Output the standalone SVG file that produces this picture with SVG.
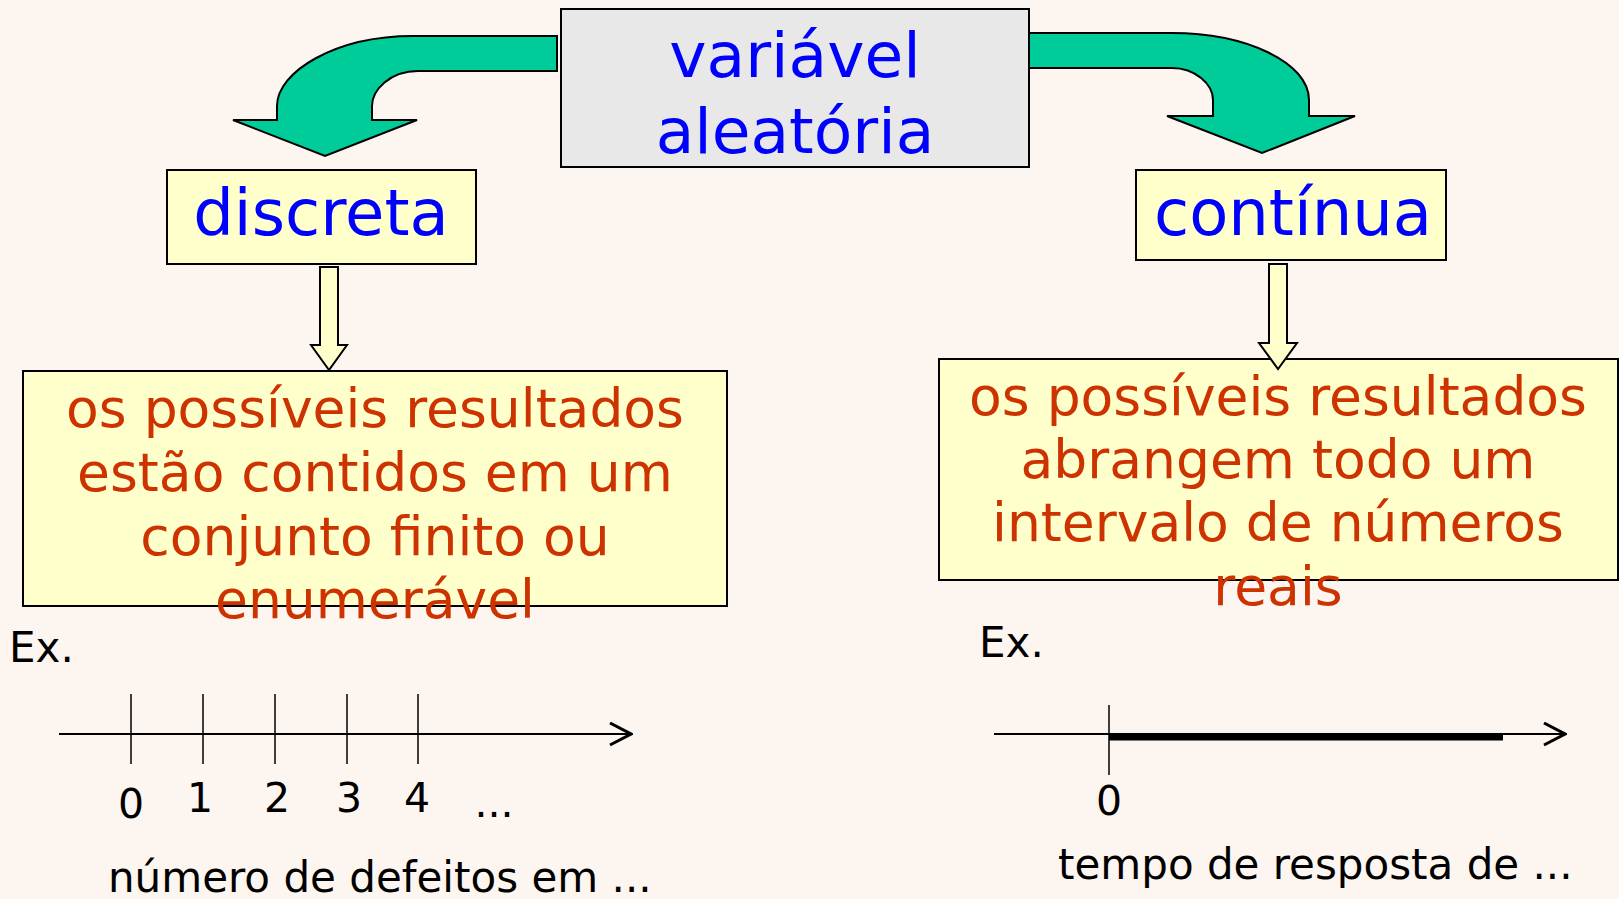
<svg xmlns="http://www.w3.org/2000/svg" width="1619" height="899" viewBox="0 0 1619 899">
<defs>
<style>
text{font-family:"DejaVu Sans","Liberation Sans",sans-serif}
.box{stroke:#000;stroke-width:2}
.gray{fill:#e8e8e8}
.yel{fill:#ffffcc}
.blue{fill:#0000ff;font-size:63px;text-anchor:middle}
.blue2{fill:#0000ff;font-size:64px;text-anchor:middle}
.red{fill:#cc3300;font-size:53.5px;text-anchor:middle}
.blk{fill:#000;font-size:42px}
.num{fill:#000;font-size:41px;text-anchor:middle}
.green{fill:#00cc99;stroke:#000;stroke-width:2;stroke-linejoin:miter}
.small{fill:#ffffcc;stroke:#000;stroke-width:2}
.axis{stroke:#000;stroke-width:2;fill:none}
.tick{stroke:#000;stroke-width:1.5}
</style>
<marker id="open" markerWidth="24" markerHeight="26" refX="22" refY="12" orient="auto" markerUnits="userSpaceOnUse">
<path d="M1,1 L22,12 L1,23" fill="none" stroke="#000" stroke-width="3"/>
</marker>
</defs>
<rect width="1619" height="899" fill="#fdf5ef"/>

<g id="node-variavel">
<rect class="box gray" x="561" y="9" width="468" height="158"/>
<text class="blue" x="795" y="77">variável</text>
<text class="blue" x="795" y="153">aleatória</text>
</g>

<g id="node-discreta">
<rect class="box yel" x="167" y="170" width="309" height="94"/>
<text class="blue2" x="321" y="235">discreta</text>
</g>

<g id="node-continua">
<rect class="box yel" x="1136" y="170" width="310" height="90"/>
<text class="blue2" x="1293" y="235">contínua</text>
</g>

<g id="node-discreta-desc">
<rect class="box yel" x="23" y="371" width="704" height="235"/>
<text class="red" x="375" y="427">os possíveis resultados</text>
<text class="red" x="375" y="491">estão contidos em um</text>
<text class="red" x="375" y="555">conjunto finito ou</text>
<text class="red" x="375" y="618">enumerável</text>
</g>

<g id="node-continua-desc">
<rect class="box yel" x="939" y="359" width="679" height="221"/>
<text class="red" x="1278" y="415">os possíveis resultados</text>
<text class="red" x="1278" y="478">abrangem todo um</text>
<text class="red" x="1278" y="541">intervalo de números</text>
<text class="red" x="1278" y="605">reais</text>
</g>

<g id="example-discreta">
<text class="blk" x="9" y="662">Ex.</text>
<line class="axis" x1="59" y1="734" x2="631" y2="734" marker-end="url(#open)"/>
<line class="tick" x1="131" y1="694" x2="131" y2="764"/>
<line class="tick" x1="203" y1="694" x2="203" y2="764"/>
<line class="tick" x1="275" y1="694" x2="275" y2="764"/>
<line class="tick" x1="347" y1="694" x2="347" y2="764"/>
<line class="tick" x1="418" y1="694" x2="418" y2="764"/>
<text class="num" x="131" y="818">0</text>
<text class="num" x="200" y="812">1</text>
<text class="num" x="277" y="812">2</text>
<text class="num" x="349" y="812">3</text>
<text class="num" x="417" y="812">4</text>
<text class="num" x="494" y="817">...</text>
<text class="blk" x="108" y="892">número de defeitos em ...</text>
</g>

<g id="example-continua">
<text class="blk" x="979" y="657">Ex.</text>
<line class="axis" x1="994" y1="734" x2="1565" y2="734" marker-end="url(#open)"/>
<line class="tick" x1="1109" y1="705" x2="1109" y2="775"/>
<line x1="1109" y1="737" x2="1503" y2="737" stroke="#000" stroke-width="7"/>
<text class="num" x="1109" y="815">0</text>
<text class="blk" x="1058" y="879">tempo de resposta de ...</text>
</g>

<g id="connectors">
<path id="arrow-left" class="green" d="M557,36 L413,36 C335,36 277,72 277,106 L277,120 L233,120 L325,156 L417,120 L372,120 L372,106 C372,90 390,71 418,71 L557,71 Z"/>
<path id="arrow-right" class="green" d="M1029,33 L1172,33 C1245,33 1309,62 1309,100 L1309,116 L1355,116 L1262,153 L1167,116 L1213,116 L1213,100 C1213,84 1195,68 1172,68 L1029,68 Z"/>
<path id="arrow-discreta" class="small" d="M320,267 L338,267 L338,345 L347,345 L329,370 L311,345 L320,345 Z"/>
<path id="arrow-continua" class="small" d="M1269,264 L1287,264 L1287,343 L1297,343 L1278,369 L1259,343 L1269,343 Z"/>
</g>
</svg>
